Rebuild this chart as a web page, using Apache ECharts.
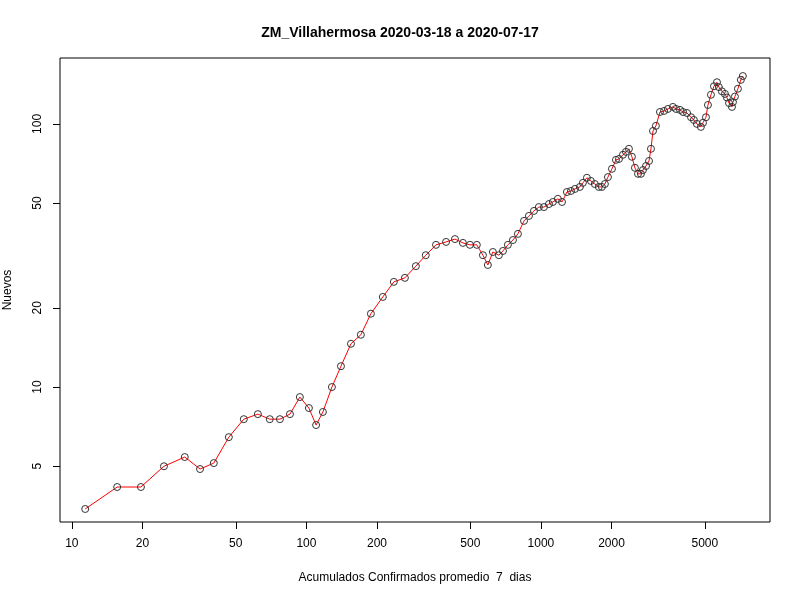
<!DOCTYPE html>
<html>
<head>
<meta charset="utf-8">
<title>ZM_Villahermosa</title>
<script src="https://cdn.jsdelivr.net/npm/echarts@6/dist/echarts.min.js"></script>
</head>
<body style="margin:0">
<div id="main" style="width:800px;height:600px;"></div>
<script type="text/javascript">
var acumulados = [11.4,15.6,19.7,24.7,30.3,35.2,40.3,46.7,54.1,62.1,69.8,77.1,85.1,93.8,102.5,110,117.6,128.5,140.4,154.9,170.7,188.4,211.8,236,263,293,323,357,394,430,465,498,533,566,594,624,662,689,723,760,798,847,889,934,980,1030,1082,1125,1181,1230,1291,1343,1397,1466,1510,1571,1633,1698,1766,1820,1874,1931,2009,2089,2152,2238,2304,2373,2443,2517,2594,2669,2723,2806,2890,2946,3006,3093,3218,3350,3480,3655,3767,3918,4036,4198,4366,4490,4624,4809,4909,5055,5155,5309,5468,5633,5738,5912,6091,6209,6339,6525,6590,6717,6918,7122,7262];
var nuevos = [3.44,4.17,4.17,5.0,5.42,4.88,5.14,6.45,7.55,7.89,7.55,7.55,7.89,9.16,8.32,7.17,8.04,10,12.0,14.6,15.8,19.0,22.0,25.1,26.0,28.8,31.7,34.7,35.6,36.5,35.3,34.7,34.7,31.7,29.1,32.6,31.7,32.9,34.7,36.2,38.2,42.8,44.7,46.7,48.3,48.3,49.6,50.5,51.9,50.5,55.1,55.6,56.6,57.6,59.7,62.4,60.7,59.1,57.6,57.6,59.1,62.8,67.5,73,73.6,76.3,78.3,80.4,75,68.1,64.6,64.6,66.8,69.2,72.3,80.4,94,98.3,111,112,114,116,114,113,111,110,106,103.5,100,97.4,101,106,118,129,139,144,138,133,130,126,120,116,121,127,136,147,152];
var xTicks = [10,20,50,100,200,500,1000,2000,5000];
var yTicks = [5,10,20,50,100];

var puntos = [];
for (var i = 0; i < acumulados.length; i++) {
    puntos.push([acumulados[i], nuevos[i]]);
}

var myChart = echarts.init(document.getElementById('main'));
var fuente = 'Liberation Sans';
var sinComas = function (v) { return String(Math.round(v)); };
var option = {
    backgroundColor: '#fff',
    animation: false,
    title: {
        text: 'ZM_Villahermosa 2020-03-18 a 2020-07-17',
        left: 'center', top: 21,
        textStyle: {fontFamily: fuente, fontSize: 14, fontWeight: 'bold', color: '#000'}
    },
    grid: {left: 60, right: 30, top: 58, bottom: 78, show: true, borderColor: '#000', borderWidth: 1,
        outerBoundsMode: 'none', containLabel: false},
    xAxis: {
        type: 'log', logBase: 10, min: 8.9, max: 9480,
        name: 'Acumulados Confirmados promedio  7  dias',
        nameLocation: 'middle', nameGap: 50,
        nameTextStyle: {fontFamily: fuente, fontSize: 12, color: '#000'},
        axisLine: {show: false},
        axisTick: {show: true, length: 7, lineStyle: {color: '#000'}, customValues: xTicks},
        axisLabel: {fontFamily: fuente, fontSize: 12, color: '#000', margin: 16, customValues: xTicks, formatter: sinComas},
        splitLine: {show: false}
    },
    yAxis: {
        type: 'log', logBase: 10, min: 3.07, max: 178,
        name: 'Nuevos',
        nameLocation: 'middle', nameGap: 46,
        nameTextStyle: {fontFamily: fuente, fontSize: 12, color: '#000'},
        axisLine: {show: false},
        axisTick: {show: true, length: 7, lineStyle: {color: '#000'}, customValues: yTicks},
        axisLabel: {fontFamily: fuente, fontSize: 12, color: '#000', rotate: 90, margin: 16, customValues: yTicks, formatter: sinComas},
        splitLine: {show: false}
    },
    series: [{
        type: 'line',
        data: puntos,
        symbol: 'circle',
        symbolSize: 7,
        itemStyle: {color: 'rgba(0,0,0,0)', borderColor: '#333', borderWidth: 1},
        lineStyle: {color: '#ff0000', width: 1}
    }]
};
myChart.setOption(option);
</script>
</body>
</html>
